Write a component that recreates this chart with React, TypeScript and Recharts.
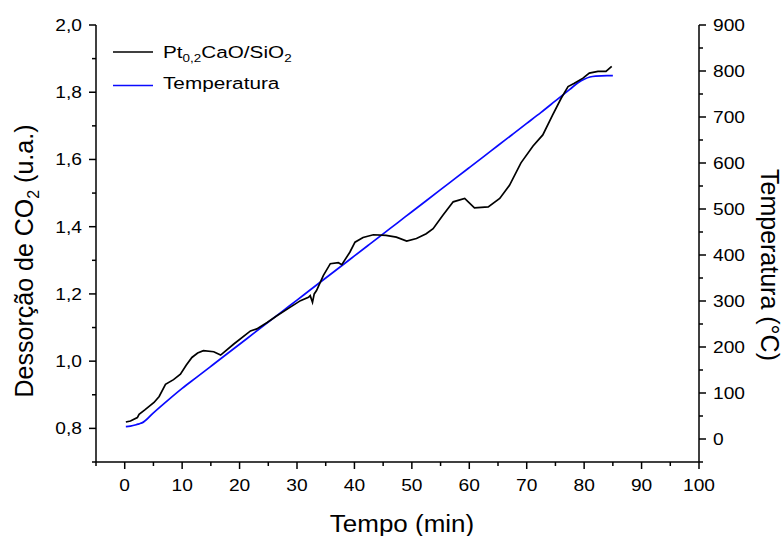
import { LineChart, Line, XAxis, YAxis } from "recharts";

// CO2 desorption signal (left axis)
const tempoCO2 = [0.2, 1, 2.2, 2.5, 3.5, 5.1, 6, 7.1, 8.5, 9.7, 10.7, 11.7, 12.7, 13.7, 15.5, 16.7, 19.0, 21.9, 23.0, 24.8, 26.5, 28.5, 30.6, 32.0, 32.3, 32.7, 33.0, 33.4, 34.6, 35.8, 37.2, 37.8, 39.2, 40.1, 41.5, 43.3, 45.5, 47.3, 49.1, 50.8, 52.5, 53.7, 55.4, 57.2, 59.2, 60.9, 63.3, 65.3, 67.0, 69.0, 71.1, 72.8, 74.5, 76.0, 77.2, 78.3, 79.8, 80.9, 82.4, 83.8, 84.8];
const co2 = [0.819, 0.822, 0.832, 0.842, 0.855, 0.877, 0.895, 0.931, 0.945, 0.961, 0.988, 1.011, 1.024, 1.031, 1.028, 1.018, 1.051, 1.09, 1.096, 1.115, 1.135, 1.157, 1.18, 1.19, 1.195, 1.175, 1.2, 1.21, 1.255, 1.29, 1.293, 1.287, 1.324, 1.354, 1.368, 1.376, 1.374, 1.369, 1.357, 1.365, 1.379, 1.394, 1.434, 1.474, 1.484, 1.456, 1.459, 1.484, 1.523, 1.59, 1.64, 1.673, 1.732, 1.782, 1.817, 1.827, 1.842, 1.857, 1.862, 1.862, 1.877];

// temperature ramp (right axis)
const tempoTemp = [0.2, 1, 2, 2.5, 3, 5, 7.5, 10, 12.5, 15, 17.5, 20, 22.5, 25, 27.5, 30, 32.5, 35, 37.5, 40, 42.5, 45, 47.5, 50, 52.5, 55, 57.5, 60, 62.5, 65, 67.5, 70, 72.5, 75, 77.5, 79, 80, 81, 82, 84, 85];
const temperatura = [27, 28, 31, 33, 35, 57, 84, 110, 134, 158, 182, 206, 230, 254, 278, 302, 326, 350, 374, 398, 422, 446, 470, 494, 518, 542, 566, 590, 614, 638, 662, 686, 710, 735, 760, 775, 782, 787, 789, 790, 790];

const xTicks = [-5, 0, 5, 10, 15, 20, 25, 30, 35, 40, 45, 50, 55, 60, 65, 70, 75, 80, 85, 90, 95, 100];
const leftTicks = [0.7, 0.8, 0.9, 1.0, 1.1, 1.2, 1.3, 1.4, 1.5, 1.6, 1.7, 1.8, 1.9, 2.0];
const rightTicks = [-50, 0, 50, 100, 150, 200, 250, 300, 350, 400, 450, 500, 550, 600, 650, 700, 750, 800, 850, 900];

const co2Data = tempoCO2.map((t, i) => ({ t, v: co2[i] }));
const tempData = tempoTemp.map((t, i) => ({ t, v: temperatura[i] }));

const FONT = "'Liberation Sans', Arial, sans-serif";
const BLUE = "#0a0aff";
// the original export is a bit wider than tall, so text gets a small horizontal stretch
const SX = 1.13;

const BottomTick = ({ x, y, payload }: any) => {
  const major = payload.value % 10 === 0;
  return (
    <g>
      <line x1={x} x2={x} y1={y} y2={y + (major ? 7 : 4)} stroke="#000" strokeWidth={1.5} />
      {major && (
        <text transform={`translate(${x},${y + 29}) scale(${SX},1)`} textAnchor="middle" fontSize={17} fontFamily={FONT} fill="#000">
          {payload.value}
        </text>
      )}
    </g>
  );
};

const TopTick = ({ x, y, payload }: any) => {
  const major = payload.value % 10 === 0;
  return <line x1={x} x2={x} y1={y} y2={y + (major ? 7 : 4)} stroke="#000" strokeWidth={1.5} />;
};

const LeftTick = ({ x, y, payload }: any) => {
  const major = Math.round(payload.value * 10) % 2 === 0;
  return (
    <g>
      <line x1={x - (major ? 7 : 4)} x2={x} y1={y} y2={y} stroke="#000" strokeWidth={1.5} />
      {major && (
        <text transform={`translate(${x - 14},${y}) scale(${SX},1)`} dy="0.35em" textAnchor="end" fontSize={17} fontFamily={FONT} fill="#000">
          {payload.value.toFixed(1).replace(".", ",")}
        </text>
      )}
    </g>
  );
};

const RightTick = ({ x, y, payload }: any) => {
  const major = payload.value % 100 === 0;
  return (
    <g>
      <line x1={x} x2={x + (major ? 7 : 4)} y1={y} y2={y} stroke="#000" strokeWidth={1.5} />
      {major && (
        <text transform={`translate(${x + 14},${y}) scale(${SX},1)`} dy="0.35em" textAnchor="start" fontSize={17} fontFamily={FONT} fill="#000">
          {payload.value}
        </text>
      )}
    </g>
  );
};

const axisLine = { stroke: "#000", strokeWidth: 1.5 };

export default function App() {
  return (
    <div style={{ position: "absolute", left: 0, top: 0, width: 784, height: 536, background: "#fff", fontFamily: FONT }}>
      <LineChart width={784} height={536} margin={{ top: 25, right: 15, left: 26, bottom: 34 }}>
        <XAxis
          xAxisId="b"
          dataKey="t"
          type="number"
          domain={[-5, 100]}
          ticks={xTicks}
          interval={0}
          height={40}
          tickSize={0}
          tickMargin={0}
          tickLine={false}
          axisLine={axisLine}
          tick={<BottomTick />}
          allowDataOverflow
          label={() => (
            <text transform={`translate(402,532) scale(${SX},1)`} textAnchor="middle" fontSize={23} fontFamily={FONT} fill="#000">
              Tempo (min)
            </text>
          )}
        />
        <XAxis
          xAxisId="top"
          orientation="top"
          dataKey="t"
          type="number"
          domain={[-5, 100]}
          ticks={xTicks}
          interval={0}
          height={0}
          tickSize={0}
          tickMargin={0}
          tickLine={false}
          axisLine={axisLine}
          tick={<TopTick />}
          allowDataOverflow
        />
        <YAxis
          yAxisId="left"
          type="number"
          domain={[0.7, 2.0]}
          ticks={leftTicks}
          interval={0}
          width={70}
          tickSize={0}
          tickMargin={0}
          tickLine={false}
          axisLine={axisLine}
          tick={<LeftTick />}
          allowDataOverflow
          label={() => (
            <text
              transform="translate(33, 261) rotate(-90)"
              textAnchor="middle"
              fontSize={25}
              fontFamily={FONT}
              fill="#000"
            >
              Dessorção de CO
              <tspan fontSize={16} dy={6}>2</tspan>
              <tspan dy={-6}>{"  (u.a.)"}</tspan>
            </text>
          )}
        />
        <YAxis
          yAxisId="right"
          orientation="right"
          type="number"
          domain={[-50, 900]}
          ticks={rightTicks}
          interval={0}
          width={70}
          tickSize={0}
          tickMargin={0}
          tickLine={false}
          axisLine={axisLine}
          tick={<RightTick />}
          allowDataOverflow
          label={() => (
            <text
              transform="translate(761, 265) rotate(90)"
              textAnchor="middle"
              fontSize={25}
              fontFamily={FONT}
              fill="#000"
            >
              Temperatura (°C)
            </text>
          )}
        />
        <Line
          xAxisId="b"
          yAxisId="right"
          data={tempData}
          dataKey="v"
          type="monotone"
          stroke={BLUE}
          strokeWidth={1.7}
          dot={false}
          isAnimationActive={false}
        />
        <Line
          xAxisId="b"
          yAxisId="left"
          data={co2Data}
          dataKey="v"
          type="linear"
          stroke="#000"
          strokeWidth={1.7}
          dot={false}
          isAnimationActive={false}
        />
      </LineChart>
      <svg width={784} height={536} style={{ position: "absolute", left: 0, top: 0, pointerEvents: "none" }}>
        <line x1={113} x2={153} y1={52} y2={52} stroke="#000" strokeWidth={1.5} />
        <text transform="translate(163,57.5) scale(1.22,1)" fontSize={17} fontFamily={FONT} fill="#000">
          Pt<tspan fontSize={11} dy={4}>0,2</tspan>
          <tspan dy={-4}>CaO/SiO</tspan>
          <tspan fontSize={11} dy={4}>2</tspan>
        </text>
        <line x1={113} x2={153} y1={85.5} y2={85.5} stroke={BLUE} strokeWidth={1.5} />
        <text transform="translate(163,89) scale(1.22,1)" fontSize={17} fontFamily={FONT} fill="#000">
          Temperatura
        </text>
      </svg>
    </div>
  );
}
